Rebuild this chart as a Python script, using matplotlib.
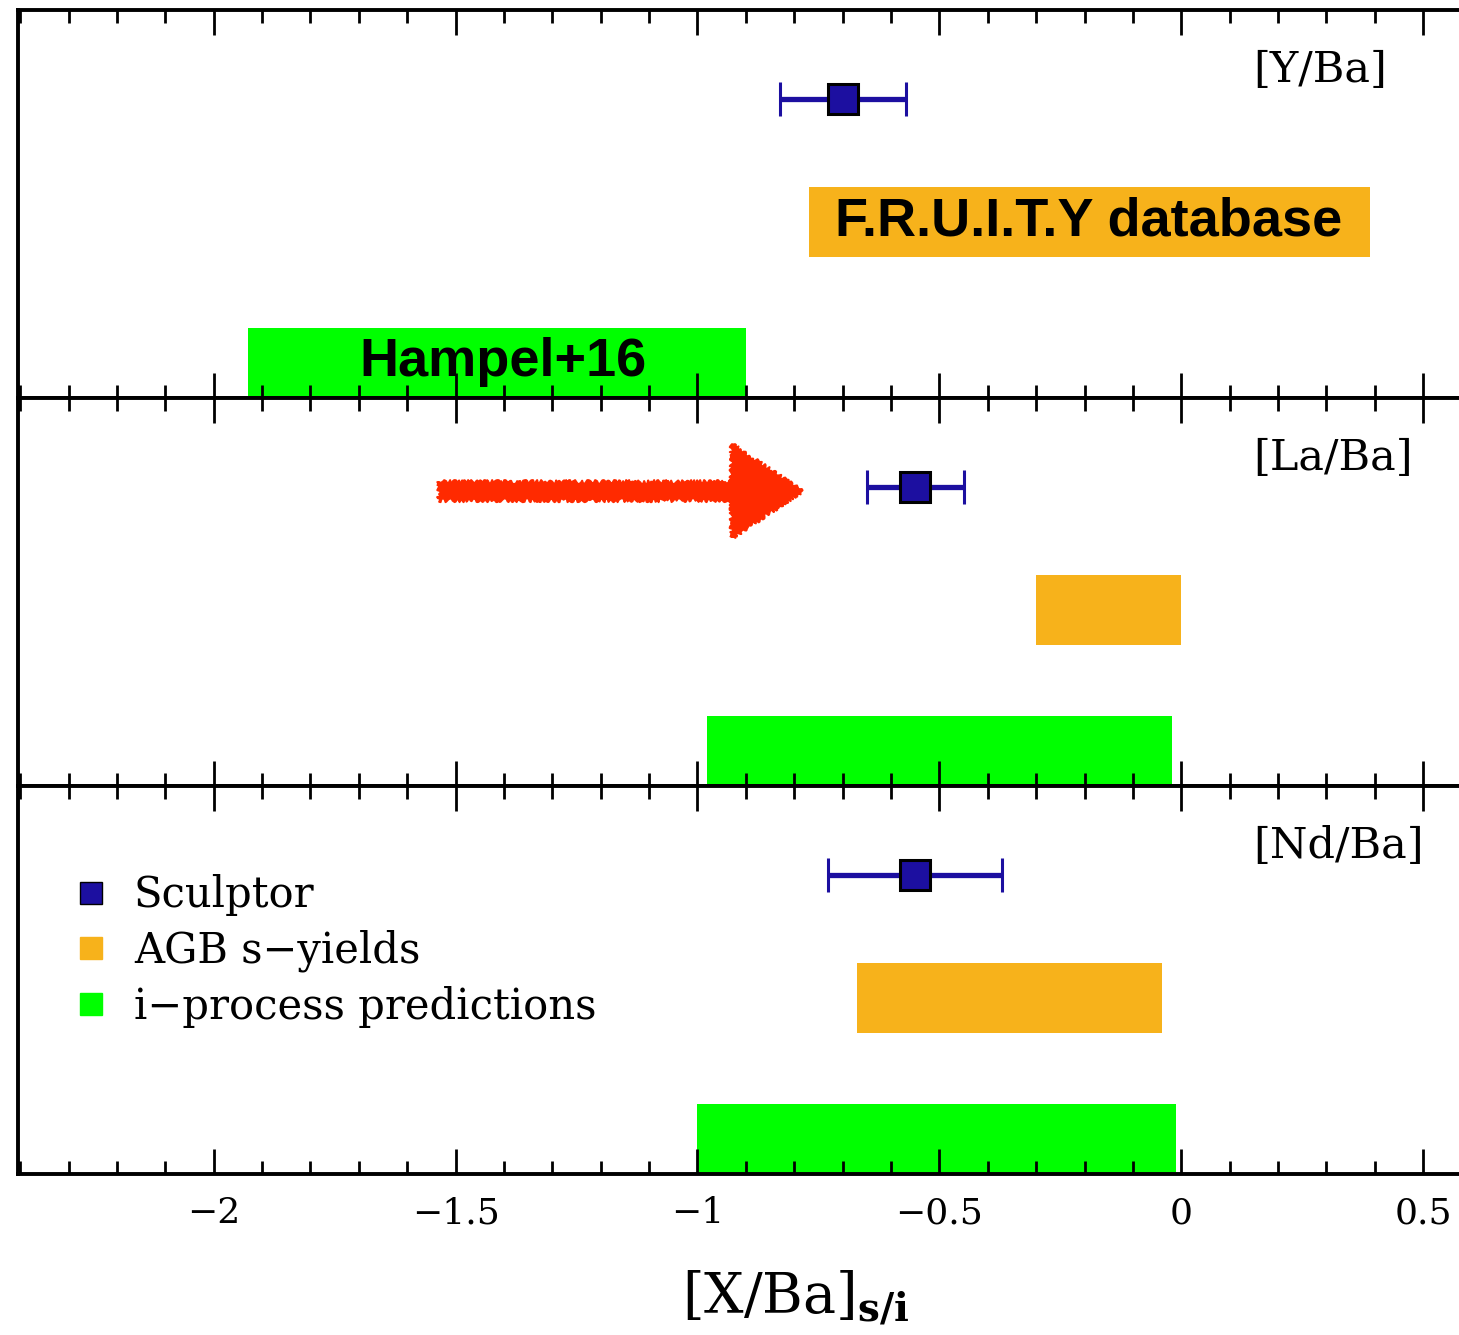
import numpy as np
import matplotlib
matplotlib.use('Agg')
import matplotlib.pyplot as plt
from matplotlib.lines import Line2D
from matplotlib.patches import FancyArrowPatch

plt.rcParams['font.family'] = 'DejaVu Serif'
plt.rcParams['mathtext.fontset'] = 'dejavuserif'

# data
elements = ['[Y/Ba]', '[La/Ba]', '[Nd/Ba]']
sculptor_x = [-0.70, -0.55, -0.55]
sculptor_err = [0.13, 0.10, 0.18]
agb_lo = [-0.77, -0.30, -0.67]
agb_hi = [0.39, 0.00, -0.04]
iproc_lo = [-1.93, -0.98, -1.00]
iproc_hi = [-0.90, -0.02, -0.01]
xticks = [-2, -1.5, -1, -0.5, 0, 0.5]
xtick_labels = ['−2', '−1.5', '−1', '−0.5', '0', '0.5']

blue = '#1c0fa0'
orange = '#f7b21b'
green = '#00ff00'

W, H = 1459, 1335
fig = plt.figure(figsize=(W / 100, H / 100), dpi=100)

left = 18 / W
tops = [10, 398, 786]
ph = 388

axes = []
for i in range(3):
    bottom = 1 - (tops[i] + ph) / H
    ax = fig.add_axes([left, bottom, 1 - left, ph / H])
    axes.append(ax)

for i, ax in enumerate(axes):
    ax.set_xlim(-2.4045, 0.574)
    ax.set_ylim(0, 1)

    # i-process band
    ax.barh(0.09, iproc_hi[i] - iproc_lo[i], left=iproc_lo[i], height=0.18,
            color=green, zorder=1)
    # AGB s-process band
    ax.barh(0.453, agb_hi[i] - agb_lo[i], left=agb_lo[i], height=0.18,
            color=orange, zorder=1)
    # Sculptor measurement
    ax.errorbar(sculptor_x[i], 0.77, xerr=sculptor_err[i], fmt='s',
                color=blue, ecolor=blue, elinewidth=3.8, capsize=12, capthick=3.8,
                markersize=22, mfc=blue, mec='black', mew=2.2, zorder=3)

    ax.text(0.149, 0.845, elements[i], fontsize=31, ha='left', va='center')

    for s in ['top', 'bottom', 'left']:
        ax.spines[s].set_linewidth(2.8)
    ax.spines['right'].set_visible(False)
    ax.set_yticks([])
    ax.set_xticks(xticks)
    ax.set_xticks(np.arange(-2.4, 0.6, 0.1), minor=True)
    ax.tick_params(axis='x', which='major', direction='in', length=18, width=2,
                   top=True, bottom=True)
    ax.tick_params(axis='x', which='minor', direction='in', length=9.5, width=2,
                   top=True, bottom=True)
    if i < 2:
        ax.set_xticklabels([])
    else:
        ax.set_xticklabels(xtick_labels, fontsize=26)
        ax.tick_params(axis='x', which='major', pad=16)

# annotations
ax1, ax2, ax3 = axes
ax1.text(-0.192, 0.454, 'F.R.U.I.T.Y database', fontsize=39, fontweight='bold',
         family='Liberation Sans', ha='center', va='center', zorder=4)
ax1.text(-1.401, 0.093, 'Hampel+16', fontsize=39, fontweight='bold',
         family='Liberation Sans', ha='center', va='center', zorder=4)

arrow = FancyArrowPatch((-1.534, 0.76), (-0.784, 0.76),
                        arrowstyle='simple,head_length=3.9,head_width=5.2,tail_width=1',
                        mutation_scale=13, color='#ff2a00', lw=1.5,
                        shrinkA=0, shrinkB=0, zorder=2)
arrow.set_sketch_params(scale=2, length=6, randomness=4)
ax2.add_patch(arrow)

handles = [Line2D([], [], marker='s', ls='none', markersize=16, mfc=blue, mec='black', mew=1),
           Line2D([], [], marker='s', ls='none', markersize=16, mfc=orange, mec=orange),
           Line2D([], [], marker='s', ls='none', markersize=16, mfc=green, mec=green)]
ax3.legend(handles, ['Sculptor', 'AGB s−yields', 'i−process predictions'],
           loc='upper left', bbox_to_anchor=(0.026, 0.815), frameon=False,
           fontsize=30, handlelength=0.9, handletextpad=0.58, labelspacing=0.32,
           borderaxespad=0)

ax3.set_xlabel(r'$[\mathrm{X/Ba}]_{\mathbf{s/i}}$', fontsize=40)
ax3.xaxis.set_label_coords(0.54, -0.245)

fig.savefig('out.png', dpi=100)
